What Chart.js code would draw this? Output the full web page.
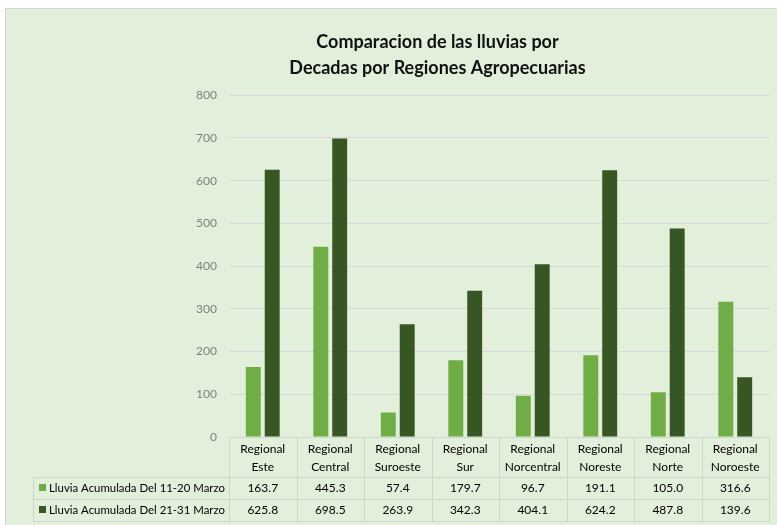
<!DOCTYPE html>
<html>
<head>
<meta charset="utf-8">
<script src="https://cdn.jsdelivr.net/npm/chart.js@4.4.1/dist/chart.umd.min.js"></script>
<style>
    html, body { margin: 0; padding: 0; background: #ffffff; overflow: hidden; }
    #panel {
        position: absolute; left: 5px; top: 8px; width: 772px; height: 517px;
        background: #e2efda; border-left: 1px solid #d4d4d4; border-top: 1px solid #d4d4d4;
    }
    #chart { display: block; }
</style>
</head>
<body>
<div id="panel"><canvas id="chart" width="772" height="517"></canvas></div>
<script>
// Data
var regions = [
    ['Regional', 'Este'], ['Regional', 'Central'], ['Regional', 'Suroeste'], ['Regional', 'Sur'],
    ['Regional', 'Norcentral'], ['Regional', 'Noreste'], ['Regional', 'Norte'], ['Regional', 'Noroeste']
];
var lluvia1120 = [163.7, 445.3, 57.4, 179.7, 96.7, 191.1, 105.0, 316.6];
var lluvia2131 = [625.8, 698.5, 263.9, 342.3, 404.1, 624.2, 487.8, 139.6];
var seriesNames = ['Lluvia Acumulada Del 11-20 Marzo', 'Lluvia Acumulada Del 21-31 Marzo'];
var yTicks = [0, 100, 200, 300, 400, 500, 600, 700, 800];

var FONT = 'Lato, "Liberation Sans", sans-serif';

// Draws the data table under the plot, like Excel's "data table" option
var dataTablePlugin = {
    id: 'dataTable',
    afterDraw: function (chart) {
        var ctx = chart.ctx;
        var area = chart.chartArea;
        var xs = chart.scales.x;
        var colW = (area.right - area.left) / regions.length;
        var top = area.bottom;
        var headBottom = top + 40;
        var rowH = 22;
        var bottom = headBottom + rowH * 2;
        var legendLeft = 27;

        ctx.save();
        ctx.strokeStyle = '#cfd6cb';
        ctx.lineWidth = 1;
        ctx.beginPath();
        // horizontal lines
        ctx.moveTo(area.left, top + 0.5); ctx.lineTo(area.right, top + 0.5);
        [headBottom, headBottom + rowH, bottom].forEach(function (y) {
            ctx.moveTo(legendLeft, y + 0.5); ctx.lineTo(area.right, y + 0.5);
        });
        // vertical lines
        for (var i = 0; i <= regions.length; i++) {
            var x = Math.round(area.left + colW * i) + 0.5;
            ctx.moveTo(x, top); ctx.lineTo(x, bottom);
        }
        ctx.moveTo(legendLeft + 0.5, headBottom); ctx.lineTo(legendLeft + 0.5, bottom);
        ctx.stroke();

        ctx.fillStyle = '#000000';
        ctx.font = '12px ' + FONT;
        ctx.textAlign = 'center';
        ctx.textBaseline = 'middle';
        regions.forEach(function (lbl, i) {
            var cx = xs.getPixelForValue(i);
            ctx.fillText(lbl[0], cx, top + 12);
            ctx.fillText(lbl[1], cx, top + 30);
            ctx.fillText(lluvia1120[i].toFixed(1), cx, headBottom + rowH / 2);
            ctx.fillText(lluvia2131[i].toFixed(1), cx, headBottom + rowH * 1.5);
        });

        // legend column
        var colors = ['#70ad47', '#375623'];
        ctx.textAlign = 'left';
        ctx.font = '11.4px ' + FONT;
        seriesNames.forEach(function (name, k) {
            var cy = headBottom + rowH * (k + 0.5);
            ctx.fillStyle = colors[k];
            ctx.fillRect(legendLeft + 6, cy - 4, 7, 7);
            ctx.fillStyle = '#000000';
            ctx.fillText(name, legendLeft + 16, cy);
        });
        ctx.restore();
    }
};

var ctx = document.getElementById('chart').getContext('2d');
var rainChart = new Chart(ctx, {
    type: 'bar',
    data: {
        labels: regions.map(function (r) { return r.join(' '); }),
        datasets: [{
            label: seriesNames[0],
            data: lluvia1120,
            backgroundColor: '#70ad47',
            barPercentage: 0.79,
            categoryPercentage: 0.56
        }, {
            label: seriesNames[1],
            data: lluvia2131,
            backgroundColor: '#375623',
            barPercentage: 0.79,
            categoryPercentage: 0.56
        }]
    },
    options: {
        responsive: false,
        animation: false,
        layout: { padding: { left: 100, right: 9, top: 0, bottom: 81 } },
        plugins: {
            legend: { display: false },
            tooltip: { enabled: false },
            title: {
                display: true,
                text: ['Comparacion de las lluvias por', 'Decadas por Regiones Agropecuarias'],
                color: '#111111',
                font: { family: FONT, size: 18, weight: 'bold', lineHeight: 1.45 },
                padding: { top: 20, bottom: 14 }
            }
        },
        scales: {
            x: {
                display: true,
                ticks: { display: false },
                grid: { display: false },
                border: { display: false }
            },
            y: {
                min: 0,
                max: 800,
                afterBuildTicks: function (scale) {
                    scale.ticks = yTicks.map(function (v) { return { value: v }; });
                },
                afterFit: function (scale) { scale.width = 123; },
                ticks: { color: '#7f7f7f', font: { family: FONT, size: 12 }, padding: 12 },
                grid: { color: '#d9d6dc', drawTicks: false },
                border: { display: false }
            }
        }
    },
    plugins: [dataTablePlugin]
});
</script>
</body>
</html>
